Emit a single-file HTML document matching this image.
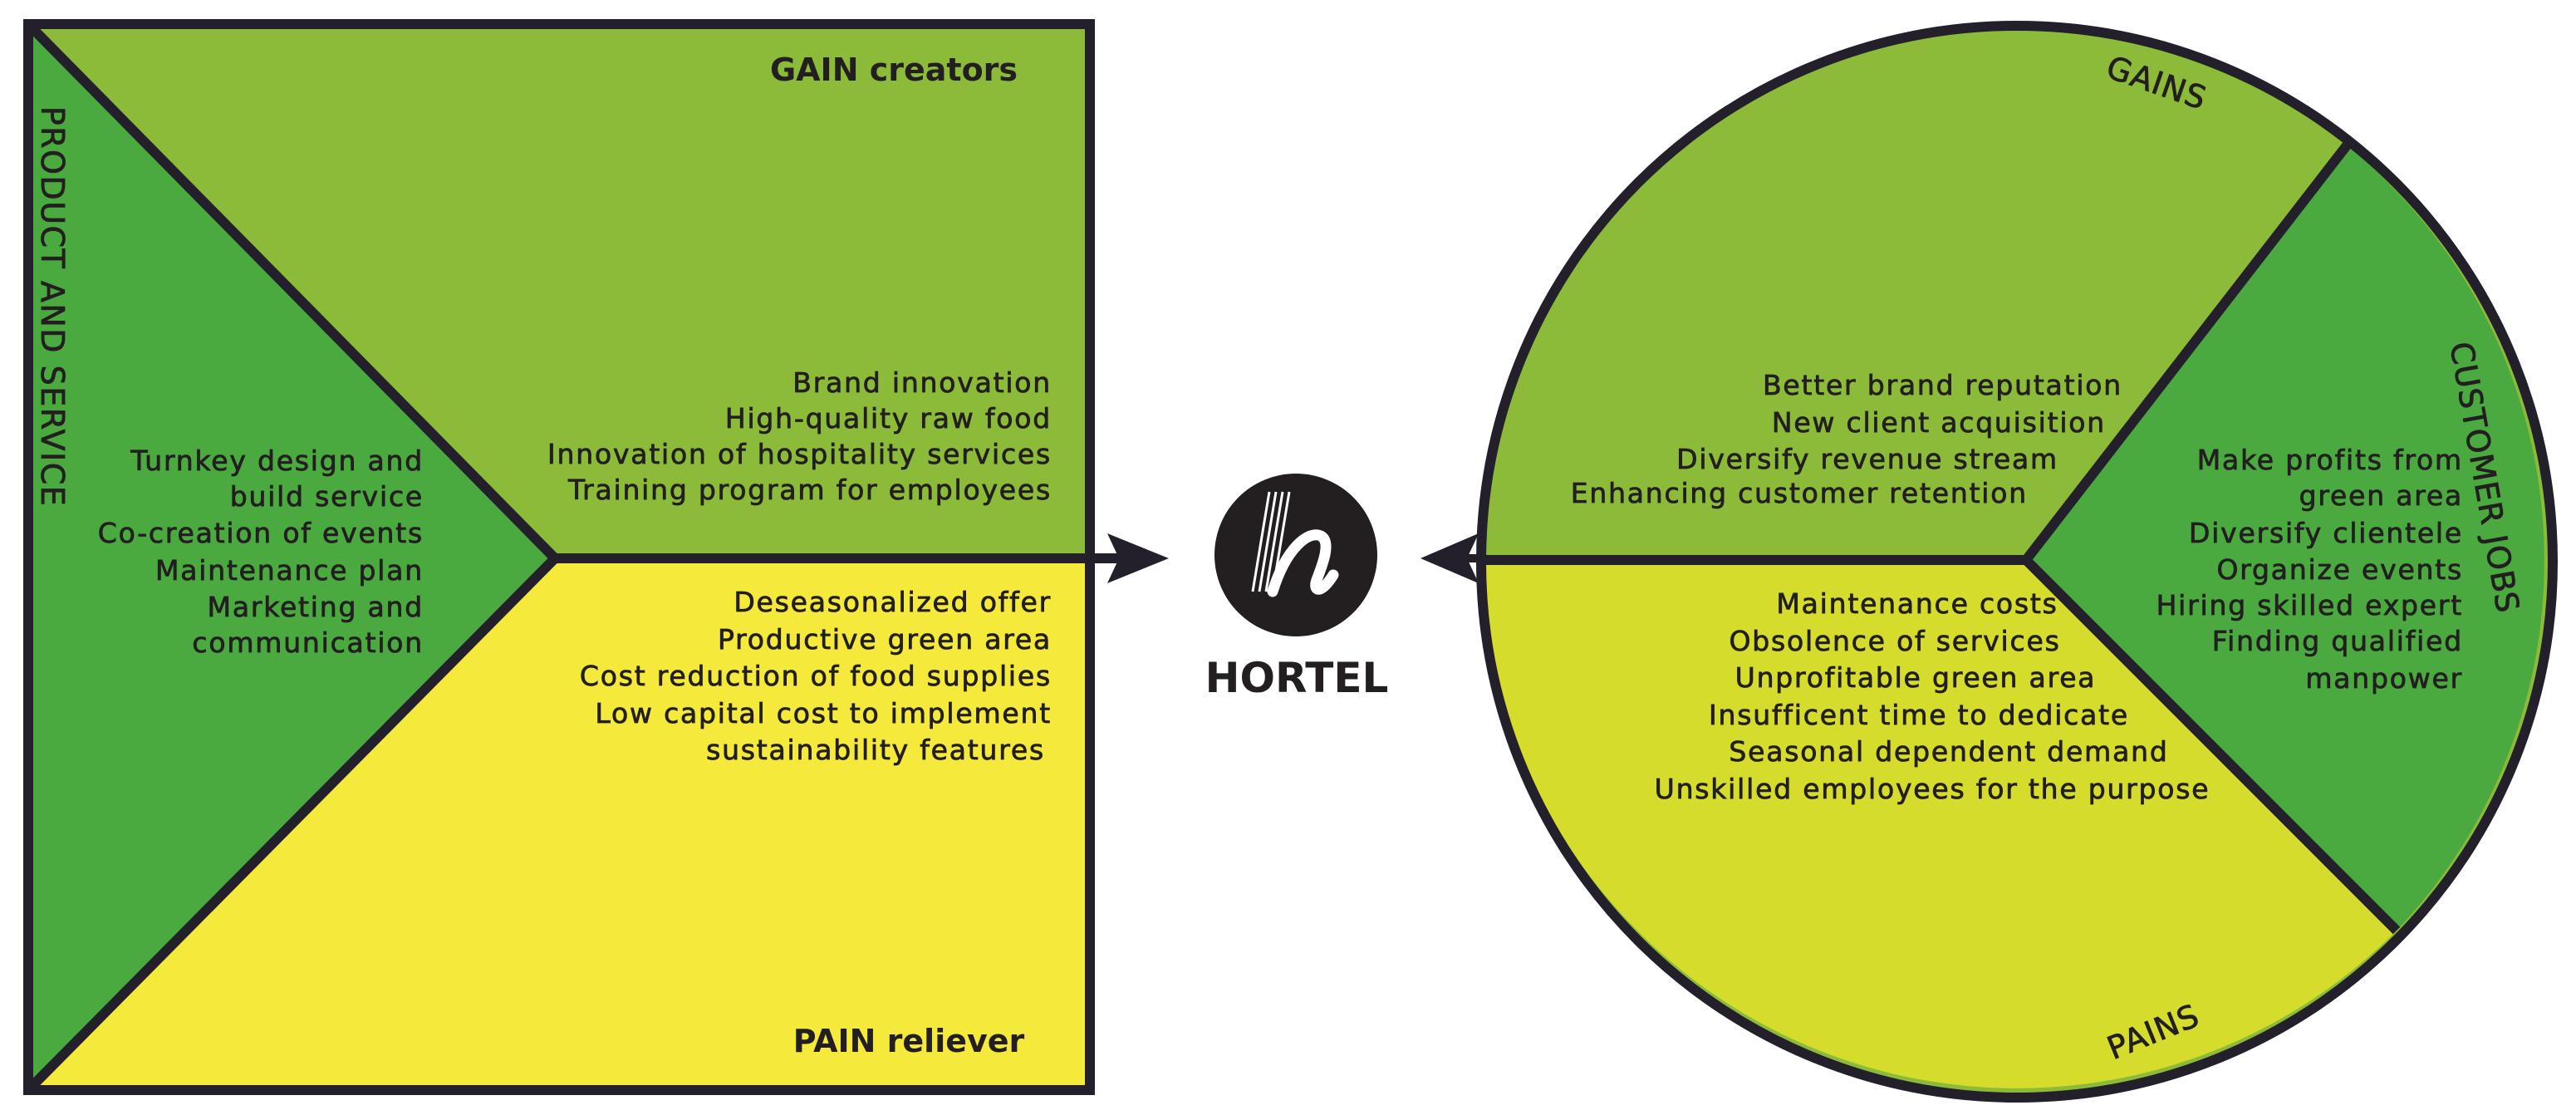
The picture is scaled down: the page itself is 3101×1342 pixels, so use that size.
<!DOCTYPE html>
<html><head><meta charset="utf-8"><style>
html,body{margin:0;padding:0;background:#fff;}
svg{display:block;}
.t{font-family:"DejaVu Sans","Liberation Sans",sans-serif;font-size:33px;fill:#231f20;stroke:#231f20;stroke-width:0.8px;letter-spacing:1.8px;}
.b{font-family:"DejaVu Sans","Liberation Sans",sans-serif;font-weight:bold;fill:#231f20;}
</style></head><body>
<svg width="3101" height="1342" viewBox="0 0 3101 1342" xmlns="http://www.w3.org/2000/svg">
<rect x="34" y="29" width="1278" height="1283" fill="#8bbb39"/>
<polygon points="34,672 1312,672 1312,1312 34,1312" fill="#f5ea3c"/>
<polygon points="34,29 668,672 34,1312" fill="#4aa93f"/>
<g stroke="#231f2b" stroke-width="12" fill="none">
<line x1="34" y1="29" x2="668" y2="672"/>
<line x1="34" y1="1312" x2="668" y2="672"/>
<line x1="668" y1="672" x2="1380" y2="672"/>
<rect x="34" y="29" width="1278" height="1283"/>
</g>
<polygon points="1407,672 1333,642 1347,672 1333,702" fill="#231f2b"/>

<text class="b" style="font-size:38px" x="1076" y="97" text-anchor="middle">GAIN creators</text>
<text class="b" style="font-size:38px" x="1094" y="1266" text-anchor="middle">PAIN reliever</text>
<text class="t" style="font-size:38px;letter-spacing:1.5px" transform="translate(50,369) rotate(90)" text-anchor="middle">PRODUCT AND SERVICE</text>

<g class="t" text-anchor="end">
<text x="1266" y="472">Brand innovation</text>
<text x="1266" y="515">High-quality raw food</text>
<text x="1266" y="558">Innovation of hospitality services</text>
<text x="1266" y="601">Training program for employees</text>
<text x="510" y="566">Turnkey design and</text>
<text x="510" y="609">build service</text>
<text x="510" y="653">Co-creation of events</text>
<text x="510" y="698">Maintenance plan</text>
<text x="510" y="742">Marketing and</text>
<text x="510" y="785">communication</text>
<text x="1266" y="736">Deseasonalized offer</text>
<text x="1266" y="781">Productive green area</text>
<text x="1266" y="825">Cost reduction of food supplies</text>
<text x="1266" y="870">Low capital cost to implement</text>
<text x="1258" y="914">sustainability features</text>
</g>

<circle cx="1560" cy="668" r="98" fill="#231f20"/>
<g stroke="#fff" stroke-width="3">
<line x1="1528" y1="592" x2="1508" y2="712"/>
<line x1="1536" y1="592" x2="1516" y2="712"/>
<line x1="1544" y1="592" x2="1524" y2="712"/>
<line x1="1552" y1="592" x2="1532" y2="712"/>
</g>
<path d="M1532,712 C1548,660 1575,638 1590,645 C1603,652 1592,680 1585,698 C1580,712 1590,716 1605,692" stroke="#fff" stroke-width="13" fill="none" stroke-linecap="round"/>
<text class="b" style="font-size:50px" x="1561" y="833" text-anchor="middle">HORTEL</text>

<line x1="1760" y1="672" x2="1792" y2="672" stroke="#231f2b" stroke-width="10"/>
<polygon points="1710,672 1780,642 1766,672 1780,702" fill="#231f2b"/>

<circle cx="2428" cy="676" r="645" fill="#8bbb39"/>
<path d="M1783,674 L2439,674 L2885,1120 A645 645 0 0 1 1783,674 Z" fill="#d5dc2c"/>
<path d="M2439,674 L2825,175 A645 645 0 0 1 2885,1120 Z" fill="#4aa93f"/>
<g stroke="#231f2b" stroke-width="12" fill="none">
<line x1="1783" y1="674" x2="2439" y2="674"/>
<line x1="2439" y1="674" x2="2825" y2="175"/>
<line x1="2439" y1="674" x2="2885" y2="1120"/>
<circle cx="2428" cy="676" r="645"/>
</g>

<text class="t" style="font-size:38px;letter-spacing:1px" transform="translate(2592,112) rotate(19)" text-anchor="middle">GAINS</text>
<text class="t" style="font-size:38px;letter-spacing:1px" transform="translate(2597,1254) rotate(-22)" text-anchor="middle">PAINS</text>
<text class="t" style="font-size:38px;letter-spacing:1px" transform="translate(2978,577) rotate(80)" text-anchor="middle">CUSTOMER JOBS</text>

<g class="t" text-anchor="end">
<text x="2555" y="475">Better brand reputation</text>
<text x="2535" y="520">New client acquisition</text>
<text x="2478" y="564">Diversify revenue stream</text>
<text x="2441" y="605">Enhancing customer retention</text>
<text x="2965" y="565">Make profits from</text>
<text x="2965" y="608">green area</text>
<text x="2965" y="653">Diversify clientele</text>
<text x="2965" y="697">Organize events</text>
<text x="2965" y="740">Hiring skilled expert</text>
<text x="2965" y="783">Finding qualified</text>
<text x="2965" y="828">manpower</text>
</g>
<g class="t" text-anchor="middle">
<text x="2308" y="738">Maintenance costs</text>
<text x="2281" y="783">Obsolence of services</text>
<text x="2306" y="827">Unprofitable green area</text>
<text x="2310" y="872">Insufficent time to dedicate</text>
<text x="2346" y="916">Seasonal dependent demand</text>
<text x="2326" y="961">Unskilled employees for the purpose</text>
</g>
</svg>
</body></html>
